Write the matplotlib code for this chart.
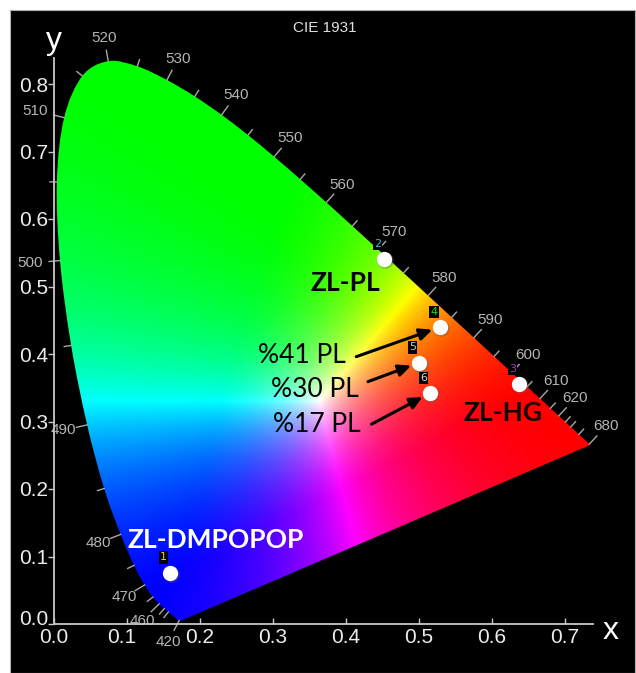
import numpy as np
import matplotlib
matplotlib.use('Agg')
import matplotlib.pyplot as plt
import matplotlib.transforms as mtransforms
from matplotlib.patches import Rectangle, PathPatch
from matplotlib.path import Path

# ---------------- data ----------------
wavelengths = [380, 385, 390, 395, 400, 405, 410, 415, 420, 425, 430, 435, 440, 445, 450,
               455, 460, 465, 470, 475, 480, 485, 490, 495, 500, 505, 510, 515, 520, 525,
               530, 535, 540, 545, 550, 555, 560, 565, 570, 575, 580, 585, 590, 595, 600,
               605, 610, 615, 620, 625, 630, 635, 640, 645, 650, 655, 660, 665, 670, 675,
               680, 700]
locus_x = [0.1741, 0.1740, 0.1738, 0.1736, 0.1733, 0.1730, 0.1726, 0.1721, 0.1714, 0.1703,
           0.1689, 0.1669, 0.1644, 0.1611, 0.1566, 0.1510, 0.1440, 0.1355, 0.1241, 0.1096,
           0.0913, 0.0687, 0.0454, 0.0235, 0.0082, 0.0039, 0.0139, 0.0389, 0.0743, 0.1142,
           0.1547, 0.1929, 0.2296, 0.2658, 0.3016, 0.3373, 0.3731, 0.4087, 0.4441, 0.4788,
           0.5125, 0.5448, 0.5752, 0.6029, 0.6270, 0.6482, 0.6658, 0.6801, 0.6915, 0.7006,
           0.7079, 0.7140, 0.7190, 0.7230, 0.7260, 0.7283, 0.7300, 0.7311, 0.7320, 0.7327,
           0.7334, 0.7347]
locus_y = [0.0050, 0.0050, 0.0049, 0.0049, 0.0048, 0.0048, 0.0048, 0.0048, 0.0051, 0.0058,
           0.0069, 0.0086, 0.0109, 0.0138, 0.0177, 0.0227, 0.0297, 0.0399, 0.0578, 0.0868,
           0.1327, 0.2007, 0.2950, 0.4127, 0.5384, 0.6548, 0.7502, 0.8120, 0.8338, 0.8262,
           0.8059, 0.7816, 0.7543, 0.7243, 0.6923, 0.6589, 0.6245, 0.5896, 0.5547, 0.5202,
           0.4866, 0.4544, 0.4242, 0.3965, 0.3725, 0.3514, 0.3340, 0.3197, 0.3083, 0.2993,
           0.2920, 0.2859, 0.2809, 0.2770, 0.2740, 0.2717, 0.2700, 0.2689, 0.2680, 0.2673,
           0.2666, 0.2653]

labelled_nm = [420, 460, 470, 480, 490, 500, 510, 520, 530, 540, 550, 560, 570, 580,
               590, 600, 610, 620, 680]
minor_nm = [450, 455, 465, 475, 485, 495, 505, 515, 525, 535, 545, 555, 565, 575, 585,
            595, 605, 615, 625, 630, 640]

sample_ids = ['1', '2', '3', '4', '5', '6']
sample_x = [0.159, 0.452, 0.637, 0.529, 0.500, 0.515]
sample_y = [0.076, 0.541, 0.355, 0.440, 0.387, 0.342]
id_colors = ['#e8d800', '#30c0e0', '#b030d0', '#30d030', '#c8c8c8', '#d8d8d8']

names = ['ZL-PL', 'ZL-DMPOPOP', 'ZL-HG']
name_x = [0.399, 0.222, 0.615]
name_y = [0.505, 0.124, 0.313]
name_colors = ['black', 'white', '#100000']

pct_labels = ['%41 PL', '%30 PL', '%17 PL']
pct_x = [0.340, 0.358, 0.360]
pct_y = [0.3985, 0.3467, 0.295]
pct_tail_x = [0.414, 0.430, 0.435]
pct_tail_y = [0.396, 0.359, 0.296]
pct_target = [3, 4, 5]   # index into samples

x_ticks = [0.0, 0.1, 0.2, 0.3, 0.4, 0.5, 0.6, 0.7]
y_ticks = [0.0, 0.1, 0.2, 0.3, 0.4, 0.5, 0.6, 0.7, 0.8]

XMAX, YMAX = 0.738, 0.838
# RGB primaries used for the colour rendering of the gamut
PRIM_R = (0.64, 0.33)
PRIM_G = (0.30, 0.60)
PRIM_B = (0.15, 0.06)

# ---------------- figure ----------------
W, H = 636, 673
fig = plt.figure(figsize=(W / 100, H / 100), dpi=100, facecolor='white')
bg = Rectangle((10 / W, 0), 625 / W, 663 / H, transform=fig.transFigure,
               facecolor='black', edgecolor='#b0b0b0', lw=0.8, zorder=-10)
fig.add_artist(bg)

ax = fig.add_axes([54 / W, 49 / H, XMAX * 730 / W, YMAX * 675 / H])
ax.set_xlim(0, XMAX)
ax.set_ylim(0, YMAX)
ax.patch.set_visible(False)

# colour fill (barycentric mixing of the primaries)
N = 700
gx = np.linspace(0, 0.74, N)
gy = np.linspace(0.0, 0.84, N)
xx, yy = np.meshgrid(gx, gy)
T = np.array([[PRIM_R[0] - PRIM_B[0], PRIM_G[0] - PRIM_B[0]],
              [PRIM_R[1] - PRIM_B[1], PRIM_G[1] - PRIM_B[1]]])
Ti = np.linalg.inv(T)
dx = xx - PRIM_B[0]
dy = yy - PRIM_B[1]
wa = Ti[0, 0] * dx + Ti[0, 1] * dy
wb = Ti[1, 0] * dx + Ti[1, 1] * dy
wc = 1 - wa - wb
rgb = np.stack([wa, wb, wc], axis=-1)
rgb = np.clip(rgb, 0, None)
rgb = rgb / np.maximum(rgb.max(axis=-1, keepdims=True), 1e-9)
rgb = np.clip(rgb, 0, 1) ** 1.3

# smooth outline of the spectral locus (Catmull-Rom -> Bezier), purple line straight
P = np.column_stack([locus_x, locus_y])
verts = [P[0]]
codes = [Path.MOVETO]
n = len(P)
for i in range(n - 1):
    p0 = P[max(i - 1, 0)]
    p1 = P[i]
    p2 = P[i + 1]
    p3 = P[min(i + 2, n - 1)]
    c1 = p1 + (p2 - p0) / 6.0
    c2 = p2 - (p3 - p1) / 6.0
    verts += [c1, c2, p2]
    codes += [Path.CURVE4] * 3
verts.append(P[0])
codes.append(Path.CLOSEPOLY)
outline = PathPatch(Path(np.array(verts), codes), facecolor='none', edgecolor='none',
                    transform=ax.transData)
ax.add_patch(outline)
im = ax.imshow(rgb, origin='lower', extent=[0, 0.74, 0.0, 0.84],
               interpolation='bilinear', aspect='auto', zorder=1)
im.set_clip_path(outline)

# spines / ticks
for s in ['top', 'right']:
    ax.spines[s].set_visible(False)
for s in ['left', 'bottom']:
    ax.spines[s].set_color('#c8c8c8')
    ax.spines[s].set_linewidth(1.3)
    ax.spines[s].set_zorder(3)
ax.set_xticks(x_ticks)
ax.set_yticks(y_ticks)
ax.set_xticklabels([f'{v:.1f}' for v in x_ticks])
ax.set_yticklabels([f'{v:.1f}' for v in y_ticks])
ax.tick_params(axis='x', direction='in', length=4, width=1, color='#c8c8c8',
               labelcolor='#ececec', labelsize=15, pad=3)
ax.tick_params(axis='y', direction='out', length=4, width=1, color='#c8c8c8',
               labelcolor='#ececec', labelsize=15, pad=0)
for lab in ax.get_xticklabels() + ax.get_yticklabels():
    lab.set_fontfamily('Liberation Sans')
# nudge the crowded labels near the origin like the reference
ylabs = ax.get_yticklabels()
ylabs[0].set_transform(ylabs[0].get_transform() +
                       mtransforms.ScaledTranslation(0, 5 / 72, fig.dpi_scale_trans))
xlabs = ax.get_xticklabels()
xlabs[1].set_transform(xlabs[1].get_transform() +
                       mtransforms.ScaledTranslation(-4 / 72, 0, fig.dpi_scale_trans))

ax.text(0.0, YMAX + 0.003, 'y', color='white', fontsize=23, family='Liberation Sans',
        ha='center', va='bottom', clip_on=False)
ax.text(XMAX + 0.025, -0.01, 'x', color='white', fontsize=23, family='Liberation Sans',
        ha='center', va='center', clip_on=False)
fig.text(325 / W, 1 - 28 / H, 'CIE 1931', color='#e0e0e0', fontsize=11,
         family='Liberation Sans', ha='center', va='center')

# wavelength ticks & labels
sx = ax.bbox.width / XMAX
sy = ax.bbox.height / YMAX
lx = np.array(locus_x)
ly = np.array(locus_y)
wl = list(wavelengths)


def normal_at(nm):
    i = wl.index(nm)
    i0 = max(i - 1, 0)
    i1 = min(i + 1, len(wl) - 1)
    tx = (lx[i1] - lx[i0]) * sx
    ty = (ly[i1] - ly[i0]) * sy
    nv = np.array([-ty, tx])
    return nv / np.hypot(*nv), lx[i], ly[i]


for nm in minor_nm + labelled_nm:
    nv, x0, y0 = normal_at(nm)
    L = 11 if nm in labelled_nm else 7
    ax.plot([x0, x0 + nv[0] * L / sx], [y0, y0 + nv[1] * L / sy], color='#a8a8a8',
            lw=1.0, clip_on=False, zorder=2)
    if nm in labelled_nm:
        d = 24 if nm not in (500, 510) else 30
        ax.text(x0 + nv[0] * d / sx, y0 + nv[1] * d / sy, str(nm), color='#b4b4b4',
                fontsize=11, family='Liberation Sans', ha='center', va='center',
                clip_on=False, zorder=2)

# sample points
ax.plot(np.array(sample_x) + 0.0012, np.array(sample_y) - 0.0014, 'o', ms=12,
        color='#606060', alpha=0.35, mec='none', zorder=4)
ax.plot(sample_x, sample_y, 'o', ms=11, color='white', mec='none', zorder=5)
for sid, x, y, c in zip(sample_ids, sample_x, sample_y, id_colors):
    ax.annotate(sid, (x, y), xytext=(-4.5, 11), textcoords='offset points',
                color=c, fontsize=8, family='DejaVu Sans', ha='center', va='center',
                bbox=dict(boxstyle='square,pad=0.1', fc='black', ec='none'), zorder=6)

# names
for t, x, y, c in zip(names, name_x, name_y, name_colors):
    ax.text(x, y, t, color=c, fontsize=19, fontweight='bold', family='Lato',
            ha='center', va='center', zorder=6)

for t, x, y, tx, ty, k in zip(pct_labels, pct_x, pct_y, pct_tail_x, pct_tail_y, pct_target):
    ax.text(x, y, t, color='black', fontsize=19, family='Lato', ha='center',
            va='center', zorder=6)
    ax.annotate('', xy=(sample_x[k], sample_y[k]), xytext=(tx, ty),
                arrowprops=dict(arrowstyle='-|>,head_length=0.75,head_width=0.35',
                                color='black', lw=2.2, shrinkA=0, shrinkB=6),
                zorder=6)

fig.savefig('out.png', dpi=100, facecolor='white')
